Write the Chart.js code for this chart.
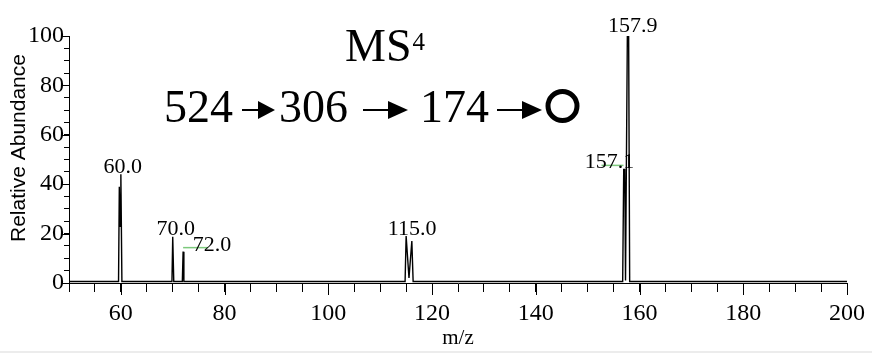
<!DOCTYPE html>
<html>
<head>
<meta charset="utf-8">
<script src="https://cdn.jsdelivr.net/npm/chart.js@4"></script>
<style>
  html, body { margin: 0; padding: 0; background: #fff; }
  #wrap { position: relative; width: 872px; height: 353px; overflow: hidden; }
  #strip { position: absolute; left: 0; right: 0; bottom: 0; height: 2px; background: #ececec; }
</style>
</head>
<body>
<div id="wrap">
  <canvas id="c" width="872" height="353"></canvas>
  <div id="strip"></div>
</div>
<script>
// ---- data (profile points) ----
const spectrumMz        = [50, 59.55, 59.7, 59.85, 60.0, 60.2, 69.85, 70.0, 70.2, 71.85, 72.0, 72.15, 114.8, 115.0, 115.55, 116.1, 116.35, 156.75, 156.95, 157.15, 157.3, 157.65, 157.9, 158.1, 200];
const spectrumIntensity = [0.6, 0.6,   39,   23,    44,   0.6,  0.6,   18.7, 0.6,  0.6,   12.7, 0.6,   0.6,   19,    2,      17,    0.6,    0.6,    46,     46,     1,     100,    100,   0.6,   0.6];

const peakLabelMz   = [60.0, 70.0, 72.0, 115.0, 157.9, 157.1];
const peakLabelInt  = [44, 18.7, 12.7, 19, 100, 46];
const peakLabelText = ["60.0", "70.0", "72.0", "115.0", "157.9", "157.1"];

const xTickValues = [60, 80, 100, 120, 140, 160, 180, 200];
const yTickValues = [0, 20, 40, 60, 80, 100];

const titleMain = "MS";
const titleSup = "4";
const pathwayNumbers = ["524", "306", "174"];
const xTitle = "m/z";
const yTitle = "Relative Abundance";

// ---- presentation ----
const SERIF = "'Liberation Serif', 'Times New Roman', serif";
const SANS = "'Liberation Sans', Arial, sans-serif";

const points = spectrumMz.map((m, i) => ({ x: m, y: spectrumIntensity[i] }));

// label placement offsets (pixels from the anchor point)
const labelOffsets = [[2, -1], [3, -2], [29, -1], [6, -1], [4, -4], [-15, -1]];
const leaderLines = { 2: [0, 25, -4], 5: [-23, -1, -4] }; // index: [x0, x1, dy]

const overlay = {
  id: 'overlay',
  afterDraw(chart) {
    const ctx = chart.ctx;
    const xs = chart.scales.x, ys = chart.scales.y;
    const ca = chart.chartArea;
    ctx.save();
    // longer major ticks
    ctx.strokeStyle = '#000'; ctx.lineWidth = 1;
    ctx.beginPath();
    xTickValues.forEach(v => {
      const px = Math.round(xs.getPixelForValue(v)) + 0.5;
      ctx.moveTo(px, ca.bottom); ctx.lineTo(px, ca.bottom + 12);
    });
    yTickValues.forEach(v => {
      const py = Math.round(ys.getPixelForValue(v)) + 0.5;
      ctx.moveTo(ca.left, py); ctx.lineTo(ca.left - 7, py);
    });
    ctx.stroke();

    // peak labels
    ctx.fillStyle = '#000';
    ctx.font = "22px " + SERIF;
    ctx.textAlign = 'center';
    ctx.textBaseline = 'alphabetic';
    peakLabelMz.forEach((m, i) => {
      const px = xs.getPixelForValue(m), py = ys.getPixelForValue(peakLabelInt[i]);
      const [dx, dy] = labelOffsets[i];
      if (leaderLines[i]) {
        const [a, b, ly] = leaderLines[i];
        ctx.strokeStyle = '#7cc97c'; ctx.lineWidth = 1.5;
        ctx.beginPath(); ctx.moveTo(px + a, py + ly); ctx.lineTo(px + b, py + ly); ctx.stroke();
      }
      ctx.fillText(peakLabelText[i], px + dx, py + dy);
    });

    // Title MS^4
    ctx.textAlign = 'left';
    ctx.font = "46px " + SERIF;
    ctx.fillText(titleMain, 345, 61);
    const w = ctx.measureText(titleMain).width;
    ctx.font = "25px " + SERIF;
    ctx.fillText(titleSup, 345 + w + 1, 50);

    // pathway line
    ctx.font = "46px " + SERIF;
    ctx.textAlign = 'center';
    const centers = [198.5, 313.5, 454.5];
    pathwayNumbers.forEach((t, i) => ctx.fillText(t, centers[i], 122));
    const arrows = [[242, 258, 275], [363, 388, 408], [497, 522, 542]];
    arrows.forEach(([x0, xh, x1]) => {
      ctx.lineWidth = 2; ctx.strokeStyle = '#000';
      ctx.beginPath(); ctx.moveTo(x0, 110); ctx.lineTo(xh + 2, 110); ctx.stroke();
      ctx.beginPath(); ctx.moveTo(xh, 101); ctx.lineTo(x1, 110); ctx.lineTo(xh, 119); ctx.closePath(); ctx.fill();
    });
    ctx.lineWidth = 5;
    ctx.beginPath(); ctx.arc(562.5, 106, 14.5, 0, Math.PI * 2); ctx.stroke();

    // y title
    ctx.save();
    ctx.translate(25, 148);
    ctx.rotate(-Math.PI / 2);
    ctx.font = "21px " + SANS;
    ctx.textAlign = 'center';
    ctx.textBaseline = 'alphabetic';
    ctx.fillText(yTitle, 0, 0);
    ctx.restore();

    ctx.restore();
  }
};

new Chart(document.getElementById('c'), {
  type: 'line',
  data: {
    datasets: [{
      data: points,
      borderColor: '#000',
      borderWidth: 1.4,
      pointRadius: 0,
      tension: 0,
      fill: false
    }]
  },
  options: {
    responsive: false,
    animation: false,
    devicePixelRatio: 1,
    layout: { padding: { top: 36, right: 24, left: 0, bottom: 0 } },
    plugins: { legend: { display: false }, tooltip: { enabled: false } },
    scales: {
      x: {
        type: 'linear', min: 50, max: 200,
        afterFit(s) { s.height = 70; },
        ticks: {
          stepSize: 5, autoSkip: false, maxRotation: 0, padding: 7,
          color: '#000', font: { family: SERIF, size: 24 },
          callback: v => (v % 20 === 0 ? String(v) : '')
        },
        grid: { drawOnChartArea: false, tickLength: 9, color: '#000' },
        border: { color: '#000', width: 1 },
        title: { display: true, text: xTitle, color: '#000', font: { family: SERIF, size: 21 }, padding: { top: 0, bottom: 2 } }
      },
      y: {
        min: 0, max: 100,
        afterFit(s) { s.width = 69; },
        ticks: {
          stepSize: 5, autoSkip: false, padding: 0,
          color: '#000', font: { family: SERIF, size: 24 },
          callback: v => (v % 20 === 0 ? String(v) : '')
        },
        grid: { drawOnChartArea: false, tickLength: 5, color: '#000' },
        border: { color: '#000', width: 1 }
      }
    }
  },
  plugins: [overlay]
});
</script>
</body>
</html>
